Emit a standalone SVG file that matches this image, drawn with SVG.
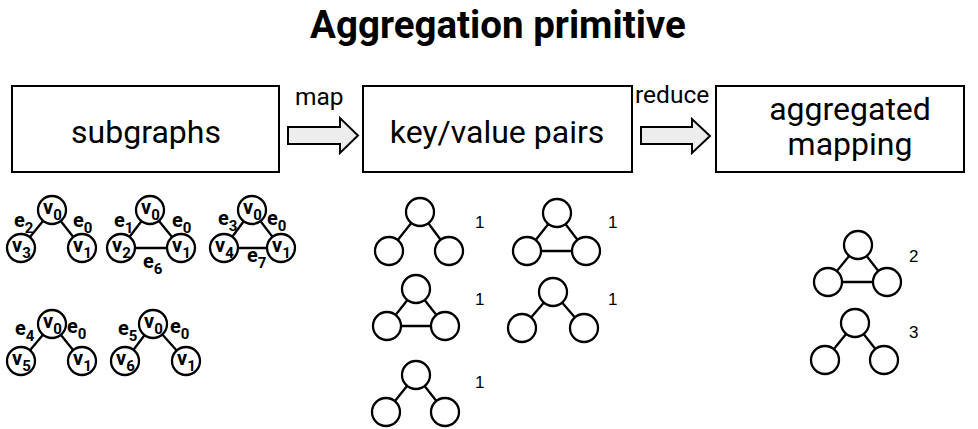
<svg xmlns="http://www.w3.org/2000/svg" width="978" height="429" viewBox="0 0 978 429">
  <style>
    .title { font-family: Roboto, "Liberation Sans", sans-serif; font-weight: bold; font-size: 38.5px; fill: #000; }
    .box { fill: #fff; stroke: #000; stroke-width: 2; }
    .boxtxt { font-family: Roboto, "Liberation Sans", sans-serif; font-size: 32px; fill: #000; text-anchor: middle; }
    .arrow { fill: #ededed; stroke: #000; stroke-width: 2; stroke-linejoin: miter; }
    .lbl { font-family: Roboto, "Liberation Sans", sans-serif; font-size: 24.5px; fill: #000; }
    .edge { stroke: #000; stroke-width: 2.3; }
    .vtx { fill: #fff; stroke: #000; stroke-width: 2.3; }
    .nm { font-family: Roboto, "Liberation Sans", sans-serif; font-weight: bold; font-size: 20px; fill: #000; }
    .sub { font-size: 15px; }
    .cnt { font-family: "Liberation Sans", Arial, sans-serif; font-size: 17px; fill: #000; }
  </style>

  <text class="title" x="498" y="38" text-anchor="middle">Aggregation primitive</text>

  <!-- pipeline boxes -->
  <g id="subgraphs">
    <rect class="box" x="12" y="86" width="267" height="86"/>
    <text class="boxtxt" x="146" y="143">subgraphs</text>
  </g>
  <g id="pairs">
    <rect class="box" x="363" y="86" width="269" height="86"/>
    <text class="boxtxt" x="497" y="143">key/value pairs</text>
  </g>
  <g id="aggregated">
    <rect class="box" x="716" y="86" width="248" height="86"/>
    <text class="boxtxt" x="850" y="120">aggregated</text>
    <text class="boxtxt" x="850" y="155">mapping</text>
  </g>

  <!-- block arrows between stages -->
  <g id="connectors">
    <path class="arrow" d="M288,127 H340 V118 L358,135.5 L340,153 V144 H288 Z"/>
    <text class="lbl" x="295" y="105">map</text>
    <path class="arrow" d="M641,127 H692 V119 L710,136 L692,153 V144 H641 Z"/>
    <text class="lbl" x="635" y="103">reduce</text>
  </g>

  <!-- labelled subgraphs -->
  <g id="sg1">
    <line class="edge" x1="52" y1="210" x2="21" y2="248"/>
    <line class="edge" x1="52" y1="210" x2="82" y2="248"/>
    <circle class="vtx" cx="52" cy="210" r="14"/>
    <circle class="vtx" cx="21" cy="248" r="14"/>
    <circle class="vtx" cx="82" cy="248" r="14"/>
    <text class="nm" x="43" y="214">v<tspan class="sub" dy="6">0</tspan></text>
    <text class="nm" x="12" y="252">v<tspan class="sub" dy="6">3</tspan></text>
    <text class="nm" x="73" y="252">v<tspan class="sub" dy="6">1</tspan></text>
    <text class="nm" x="14" y="227">e<tspan class="sub" dy="6">2</tspan></text>
    <text class="nm" x="73" y="227">e<tspan class="sub" dy="6">0</tspan></text>
  </g>
  <g id="sg2">
    <line class="edge" x1="150" y1="210" x2="121" y2="248"/>
    <line class="edge" x1="150" y1="210" x2="181" y2="248"/>
    <line class="edge" x1="121" y1="248" x2="181" y2="248"/>
    <circle class="vtx" cx="150" cy="210" r="14"/>
    <circle class="vtx" cx="121" cy="248" r="14"/>
    <circle class="vtx" cx="181" cy="248" r="14"/>
    <text class="nm" x="141" y="214">v<tspan class="sub" dy="6">0</tspan></text>
    <text class="nm" x="112" y="252">v<tspan class="sub" dy="6">2</tspan></text>
    <text class="nm" x="172" y="252">v<tspan class="sub" dy="6">1</tspan></text>
    <text class="nm" x="114" y="227">e<tspan class="sub" dy="6">1</tspan></text>
    <text class="nm" x="172" y="227">e<tspan class="sub" dy="6">0</tspan></text>
    <text class="nm" x="143" y="268">e<tspan class="sub" dy="6">6</tspan></text>
  </g>
  <g id="sg3">
    <line class="edge" x1="252" y1="210" x2="224" y2="248"/>
    <line class="edge" x1="252" y1="210" x2="281" y2="248"/>
    <line class="edge" x1="224" y1="248" x2="281" y2="248"/>
    <circle class="vtx" cx="252" cy="210" r="14"/>
    <circle class="vtx" cx="224" cy="248" r="14"/>
    <circle class="vtx" cx="281" cy="248" r="14"/>
    <text class="nm" x="243" y="214">v<tspan class="sub" dy="6">0</tspan></text>
    <text class="nm" x="215" y="252">v<tspan class="sub" dy="6">4</tspan></text>
    <text class="nm" x="272" y="252">v<tspan class="sub" dy="6">1</tspan></text>
    <text class="nm" x="218" y="225">e<tspan class="sub" dy="6">3</tspan></text>
    <text class="nm" x="267" y="225">e<tspan class="sub" dy="6">0</tspan></text>
    <text class="nm" x="247" y="262">e<tspan class="sub" dy="6">7</tspan></text>
  </g>
  <g id="sg4">
    <line class="edge" x1="52" y1="324" x2="21" y2="361"/>
    <line class="edge" x1="52" y1="324" x2="82" y2="361"/>
    <circle class="vtx" cx="52" cy="324" r="14"/>
    <circle class="vtx" cx="21" cy="361" r="14"/>
    <circle class="vtx" cx="82" cy="361" r="14"/>
    <text class="nm" x="43" y="328">v<tspan class="sub" dy="6">0</tspan></text>
    <text class="nm" x="12" y="365">v<tspan class="sub" dy="6">5</tspan></text>
    <text class="nm" x="73" y="365">v<tspan class="sub" dy="6">1</tspan></text>
    <text class="nm" x="15" y="335">e<tspan class="sub" dy="6">4</tspan></text>
    <text class="nm" x="67" y="333">e<tspan class="sub" dy="6">0</tspan></text>
  </g>
  <g id="sg5">
    <line class="edge" x1="153" y1="324" x2="125" y2="361"/>
    <line class="edge" x1="153" y1="324" x2="186" y2="361"/>
    <circle class="vtx" cx="153" cy="324" r="14"/>
    <circle class="vtx" cx="125" cy="361" r="14"/>
    <circle class="vtx" cx="186" cy="361" r="14"/>
    <text class="nm" x="144" y="328">v<tspan class="sub" dy="6">0</tspan></text>
    <text class="nm" x="116" y="365">v<tspan class="sub" dy="6">6</tspan></text>
    <text class="nm" x="177" y="365">v<tspan class="sub" dy="6">1</tspan></text>
    <text class="nm" x="118" y="335">e<tspan class="sub" dy="6">5</tspan></text>
    <text class="nm" x="170" y="333">e<tspan class="sub" dy="6">0</tspan></text>
  </g>

  <!-- key/value pairs: pattern + count -->
  <g id="kv1">
    <line class="edge" x1="420" y1="212" x2="389" y2="251"/>
    <line class="edge" x1="420" y1="212" x2="449" y2="251"/>
    <circle class="vtx" cx="420" cy="212" r="14"/>
    <circle class="vtx" cx="389" cy="251" r="14"/>
    <circle class="vtx" cx="449" cy="251" r="14"/>
    <text class="cnt" x="475" y="228">1</text>
  </g>
  <g id="kv2">
    <line class="edge" x1="557" y1="213" x2="527" y2="251"/>
    <line class="edge" x1="557" y1="213" x2="586" y2="251"/>
    <line class="edge" x1="527" y1="251" x2="586" y2="251"/>
    <circle class="vtx" cx="557" cy="213" r="14"/>
    <circle class="vtx" cx="527" cy="251" r="14"/>
    <circle class="vtx" cx="586" cy="251" r="14"/>
    <text class="cnt" x="608" y="228">1</text>
  </g>
  <g id="kv3">
    <line class="edge" x1="416" y1="289" x2="387" y2="326"/>
    <line class="edge" x1="416" y1="289" x2="445" y2="326"/>
    <line class="edge" x1="387" y1="326" x2="445" y2="326"/>
    <circle class="vtx" cx="416" cy="289" r="14"/>
    <circle class="vtx" cx="387" cy="326" r="14"/>
    <circle class="vtx" cx="445" cy="326" r="14"/>
    <text class="cnt" x="475" y="305">1</text>
  </g>
  <g id="kv4">
    <line class="edge" x1="553" y1="292" x2="522" y2="328"/>
    <line class="edge" x1="553" y1="292" x2="584" y2="328"/>
    <circle class="vtx" cx="553" cy="292" r="14"/>
    <circle class="vtx" cx="522" cy="328" r="14"/>
    <circle class="vtx" cx="584" cy="328" r="14"/>
    <text class="cnt" x="608" y="305">1</text>
  </g>
  <g id="kv5">
    <line class="edge" x1="416" y1="375" x2="386" y2="412"/>
    <line class="edge" x1="416" y1="375" x2="445" y2="412"/>
    <circle class="vtx" cx="416" cy="375" r="14"/>
    <circle class="vtx" cx="386" cy="412" r="14"/>
    <circle class="vtx" cx="445" cy="412" r="14"/>
    <text class="cnt" x="475" y="388">1</text>
  </g>

  <!-- aggregated result -->
  <g id="agg1">
    <line class="edge" x1="858" y1="245" x2="828" y2="282"/>
    <line class="edge" x1="858" y1="245" x2="887" y2="282"/>
    <line class="edge" x1="828" y1="282" x2="887" y2="282"/>
    <circle class="vtx" cx="858" cy="245" r="14"/>
    <circle class="vtx" cx="828" cy="282" r="14"/>
    <circle class="vtx" cx="887" cy="282" r="14"/>
    <text class="cnt" x="909" y="262">2</text>
  </g>
  <g id="agg2">
    <line class="edge" x1="855" y1="323" x2="825" y2="360"/>
    <line class="edge" x1="855" y1="323" x2="884" y2="360"/>
    <circle class="vtx" cx="855" cy="323" r="14"/>
    <circle class="vtx" cx="825" cy="360" r="14"/>
    <circle class="vtx" cx="884" cy="360" r="14"/>
    <text class="cnt" x="909" y="338">3</text>
  </g>
</svg>
